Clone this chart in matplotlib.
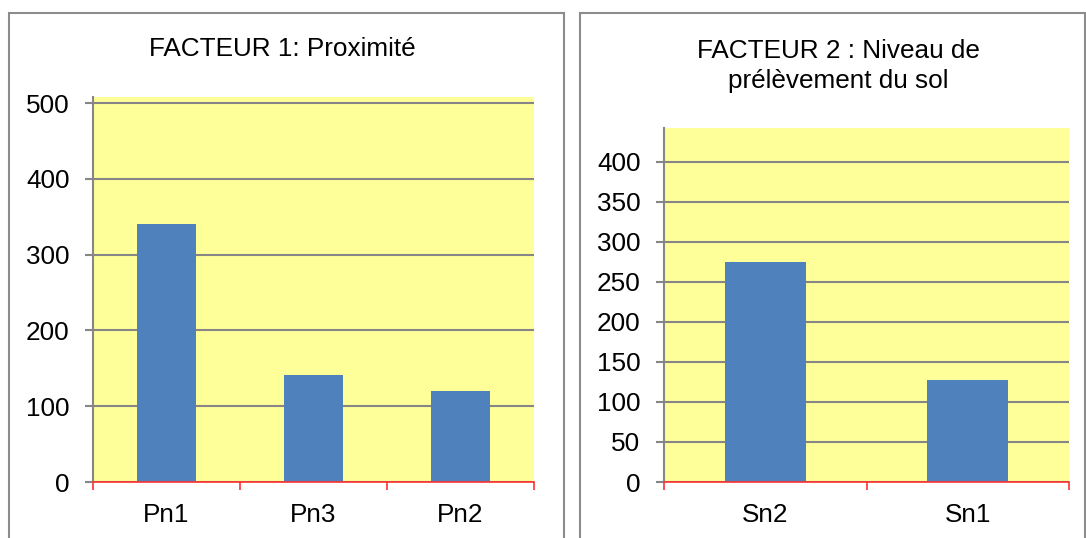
import matplotlib.pyplot as plt
from matplotlib.patches import Rectangle

plt.rcParams["font.family"] = ["Liberation Sans", "DejaVu Sans"]

# Facteur 1 : proximité
prox_labels = ["Pn1", "Pn3", "Pn2"]
prox_values = [341, 141, 120]
prox_ticks = [0, 100, 200, 300, 400, 500]

# Facteur 2 : niveau de prélèvement du sol
sol_labels = ["Sn2", "Sn1"]
sol_values = [275, 127]
sol_ticks = [0, 50, 100, 150, 200, 250, 300, 350, 400]

W, H = 1086, 538
BAR = "#4F81BD"
PLOT_BG = "#FFFF99"
GRID = "#868686"
FS = 18.8


def px_axes(fig, left, top, right, bottom):
    """Create an axes from pixel bounds (origin at the top-left)."""
    return fig.add_axes([left / W, 1 - bottom / H, (right - left) / W, (bottom - top) / H])


def draw_panel(ax, labels, values, ticks, ymax):
    n = len(labels)
    ax.set_facecolor(PLOT_BG)
    ax.bar(range(n), values, width=0.4, color=BAR, zorder=3)
    ax.set_xlim(-0.5, n - 0.5)
    ax.set_ylim(0, ymax)
    ax.set_yticks(ticks)
    ax.yaxis.grid(True, color=GRID, linewidth=1.5, zorder=1)
    ax.set_axisbelow(True)

    for side in ("top", "right"):
        ax.spines[side].set_visible(False)
    ax.spines["left"].set_color(GRID)
    ax.spines["left"].set_linewidth(1.5)
    ax.spines["bottom"].set_color("#FF3030")
    ax.spines["bottom"].set_linewidth(1.2)
    ax.spines["bottom"].set_zorder(4)

    ax.tick_params(axis="y", direction="out", length=6, width=1.5,
                   color=GRID, labelsize=FS, pad=11)
    # category boundaries carry the ticks, labels sit in the middle
    ax.set_xticks([i - 0.5 for i in range(n + 1)])
    ax.set_xticklabels([])
    ax.set_xticks(range(n), minor=True)
    ax.set_xticklabels(labels, minor=True)
    ax.tick_params(axis="x", which="major", direction="out", length=6,
                   width=1.2, color="#FF3030")
    ax.tick_params(axis="x", which="minor", length=0, labelsize=FS, pad=15)


fig = plt.figure(figsize=(W / 100, H / 100), dpi=100)
fig.patch.set_facecolor("white")

# grey frames around each chart
for x0, x1 in ((9, 564), (580, 1085)):
    fig.patches.append(Rectangle((x0 / W, -0.05), (x1 - x0) / W, 1.05 - 13 / H,
                                 transform=fig.transFigure, fill=False,
                                 edgecolor="#8C8C8C", linewidth=1.5))

ax1 = px_axes(fig, 93, 97, 534, 482)
draw_panel(ax1, prox_labels, prox_values, prox_ticks, 508)
fig.text(282 / W, 1 - 49 / H, "FACTEUR 1: Proximité", ha="center",
         va="center", fontsize=FS)

ax2 = px_axes(fig, 664, 128, 1069, 482)
draw_panel(ax2, sol_labels, sol_values, sol_ticks, 442)
fig.text(838 / W, 1 - 66 / H, "FACTEUR 2 : Niveau de\nprélèvement du sol",
         ha="center", va="center", fontsize=FS, linespacing=1.3)

fig.savefig("out.png", dpi=100)
